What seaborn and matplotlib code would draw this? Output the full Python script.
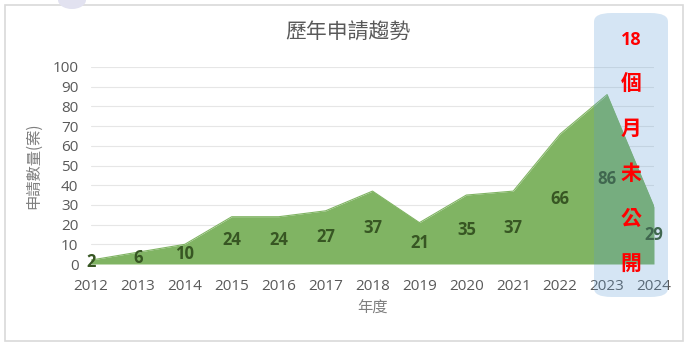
import matplotlib
matplotlib.use("Agg")
import matplotlib.pyplot as plt
import seaborn as sns
import pandas as pd
from matplotlib.patches import FancyBboxPatch, Rectangle, Ellipse

years = [2012, 2013, 2014, 2015, 2016, 2017, 2018, 2019, 2020, 2021, 2022, 2023, 2024]
counts = [2, 6, 10, 24, 24, 27, 37, 21, 35, 37, 66, 86, 29]
yticks = [0, 10, 20, 30, 40, 50, 60, 70, 80, 90, 100]
title = "歷年申請趨勢"
xlabel = "年度"
ylabel = "申請數量(案)"
note = ["18", "個", "月", "未", "公", "開"]

df = pd.DataFrame({"year": years, "count": counts})

sns.set_theme(style="white")
plt.rcParams['font.family'] = ['Noto Sans CJK TC', 'DejaVu Sans']

W, H = 698, 347
fig = plt.figure(figsize=(W / 100, H / 100), dpi=100)
ax = fig.add_axes([91 / W, 1 - 264 / H, (654 - 91) / W, (264 - 67) / H])

green = "#80b463"
ax.fill_between(df["year"], 0, df["count"], color=green, linewidth=0, zorder=2)
sns.lineplot(data=df, x="year", y="count", ax=ax, color=green, linewidth=0.8, zorder=2)

ax.set_xlim(2012, 2024)
ax.set_ylim(0, 100)
ax.set_yticks(yticks)
ax.set_xticks(years)
ax.grid(axis="y", color="#e6e6e6", linewidth=0.8, zorder=0)
for s in ax.spines.values():
    s.set_visible(False)
ax.tick_params(axis="both", length=0, labelsize=11, colors="#595959")
ax.tick_params(axis="x", pad=11)
ax.tick_params(axis="y", pad=9)
for lab in ax.get_xticklabels() + ax.get_yticklabels():
    lab.set_family(['Open Sans', 'DejaVu Sans'])
ax.set_xlabel(xlabel, color="#7f7f7f", fontsize=11)
ax.xaxis.set_label_coords((372 - 91) / (654 - 91), -(300 - 264) / (264 - 67))
ax.set_ylabel(ylabel, color="#7f7f7f", fontsize=11)
ax.yaxis.set_label_coords(-(91 - 42) / (654 - 91), 0.5)

for x, y in zip(years, counts):
    ax.text(x, y / 2, str(y), ha="center", va="center", fontsize=12,
            fontweight="bold", color="#375623", family=['Open Sans', 'DejaVu Sans'], zorder=3)

fig.text(348 / W, 1 - 33 / H, title, ha="center", va="center", fontsize=15, color="#595959")

# highlight box
box = FancyBboxPatch((594 / W, 1 - 297 / H), (668 - 594) / W, (297 - 13) / H,
                     boxstyle="round,pad=0.0,rounding_size=0.025", transform=fig.transFigure,
                     facecolor="#5b9bd5", alpha=0.25, edgecolor="none", zorder=5)
fig.patches.append(box)

ys = [40, 83, 128, 173, 218, 263]
for t, yy in zip(note, ys):
    if t == "18":
        fig.text(631 / W, 1 - yy / H, t, ha="center", va="center", fontsize=13,
                 fontweight="bold", color="#ff0000", zorder=6, family=['Open Sans', 'DejaVu Sans'])
    else:
        fig.text(631 / W, 1 - yy / H, t, ha="center", va="center", fontsize=15,
                 fontweight="bold", color="#ff0000", zorder=6, family=['Noto Sans CJK TC'])

# frame
fig.patches.append(Rectangle((5 / W, 1 - 341 / H), (683 - 5) / W, (341 - 5) / H,
                             transform=fig.transFigure, fill=False, edgecolor="#d9d9d9",
                             linewidth=1.2, zorder=1))
fig.patches.append(Ellipse((72 / W, 1 - 0 / H), 28 / W, 18 / H, transform=fig.transFigure,
                           facecolor="#e2e2f0", edgecolor="none", zorder=1))

fig.savefig("out.png", dpi=100)
